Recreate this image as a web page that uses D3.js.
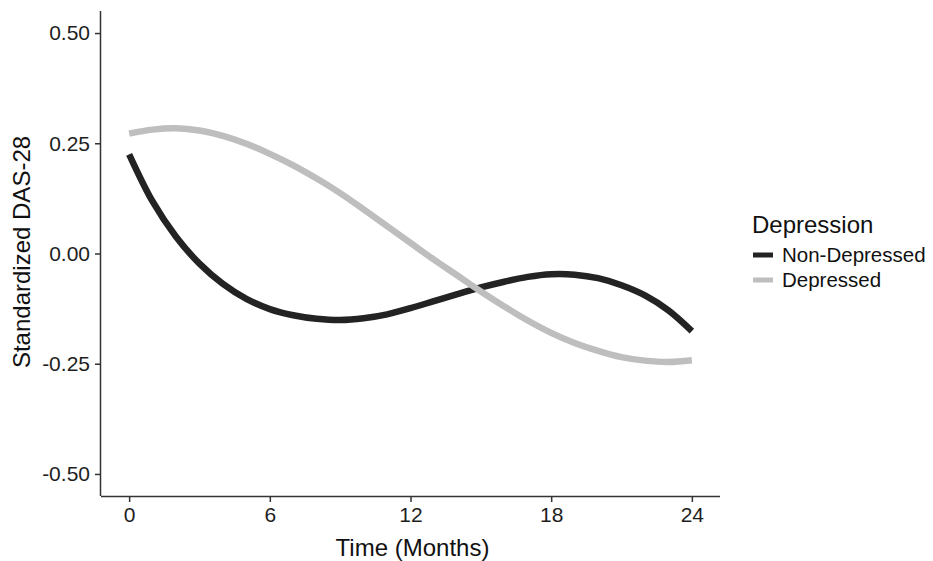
<!DOCTYPE html>
<html>
<head>
<meta charset="utf-8">
<script src="https://cdn.jsdelivr.net/npm/d3@7"></script>
<style>
  body { margin: 0; background: #fff; }
  svg { display: block; font-family: "Liberation Sans", Arial, sans-serif; }
</style>
</head>
<body>
<div id="chart"></div>
<script>
// fitted curves, one value per month
var months = [0,1,2,3,4,5,6,7,8,9,10,11,12,13,14,15,16,17,18,19,20,21,22,23,24];
var nonDepressed = [0.225,0.118,0.038,-0.023,-0.069,-0.103,-0.126,-0.140,-0.148,-0.151,-0.147,-0.138,-0.124,-0.108,-0.092,-0.077,-0.064,-0.053,-0.047,-0.048,-0.056,-0.072,-0.095,-0.129,-0.176];
var depressed = [0.272,0.281,0.284,0.279,0.267,0.249,0.226,0.200,0.170,0.137,0.100,0.062,0.024,-0.014,-0.050,-0.086,-0.120,-0.152,-0.180,-0.203,-0.221,-0.235,-0.243,-0.246,-0.242];
var seriesNames = ["Non-Depressed", "Depressed"];
var seriesColors = ["#232323", "#bebebe"];
var xTicks = [0, 6, 12, 18, 24];
var yTicks = [-0.50, -0.25, 0.00, 0.25, 0.50];

function drawChart() {
    var W = 933, H = 561;
    // panel edges in px (note: "top" is reserved on window, so keep these local)
    var pLeft = 101, pRight = 720, pTop = 11, pBottom = 496;

    var svg = d3.select("#chart").append("svg")
        .attr("width", W)
        .attr("height", H);

    var x = d3.scaleLinear().domain([-1.2, 25.2]).range([pLeft, pRight]);
    var y = d3.scaleLinear().domain([-0.55, 0.55]).range([pBottom, pTop]);

    // lines
    var line = d3.line()
        .x(function (d) { return x(d.m) })
        .y(function (d) { return y(d.v) })
        .curve(d3.curveCatmullRom.alpha(0.5));

    [nonDepressed, depressed].forEach(function (vals, i) {
        var pts = months.map(function (m, j) { return { m: m, v: vals[j] } });
        svg.append("path")
            .datum(pts)
            .attr("d", line)
            .attr("fill", "none")
            .attr("stroke", seriesColors[i])
            .attr("stroke-width", 6.5);
    });

    // axes (plain hyphen for negatives, like the original)
    var fmtY = function (d) { return d3.format(".2f")(d).replace("\u2212", "-") };
    var xAxis = svg.append("g")
        .attr("transform", "translate(0," + pBottom + ")")
        .call(d3.axisBottom(x).tickValues(xTicks).tickSize(6).tickPadding(5).tickFormat(d3.format("d")));
    var yAxis = svg.append("g")
        .attr("transform", "translate(" + pLeft + ",0)")
        .call(d3.axisLeft(y).tickValues(yTicks).tickSize(6).tickPadding(5).tickFormat(fmtY));

    [xAxis, yAxis].forEach(function (ax) {
        ax.attr("font-size", null).attr("font-family", null);
        ax.select(".domain").attr("stroke", "#333").attr("stroke-width", 1.5);
        ax.selectAll(".tick line").attr("stroke", "#333").attr("stroke-width", 1.5);
        ax.selectAll(".tick text")
            .attr("fill", "#1e1e1e")
            .style("font-size", "21px");
    });
    // only the panel span, no outer ticks
    xAxis.select(".domain").attr("d", "M" + pLeft + ",0.5H" + pRight);
    yAxis.select(".domain").attr("d", "M-0.5," + pTop + "V" + pBottom);

    // axis titles
    svg.append("text")
        .attr("x", (pLeft + pRight) / 2 + 2)
        .attr("y", 556)
        .attr("text-anchor", "middle")
        .style("font-size", "24px")
        .attr("fill", "#111")
        .text("Time (Months)");

    svg.append("text")
        .attr("transform", "translate(30,252) rotate(-90)")
        .attr("text-anchor", "middle")
        .style("font-size", "24px")
        .attr("fill", "#111")
        .text("Standardized DAS-28");

    // legend
    var legend = svg.append("g").attr("transform", "translate(752,0)");
    legend.append("text")
        .attr("x", 0)
        .attr("y", 233)
        .style("font-size", "24px")
        .attr("fill", "#111")
        .text("Depression");

    seriesNames.forEach(function (name, i) {
        var cy = 255 + i * 25;
        legend.append("line")
            .attr("x1", 1).attr("x2", 21)
            .attr("y1", cy).attr("y2", cy)
            .attr("stroke", seriesColors[i])
            .attr("stroke-width", 5);
        legend.append("text")
            .attr("x", 30)
            .attr("y", cy + 7)
            .style("font-size", "20.5px")
            .attr("fill", "#111")
            .text(name);
    });
}

drawChart();
</script>
</body>
</html>
